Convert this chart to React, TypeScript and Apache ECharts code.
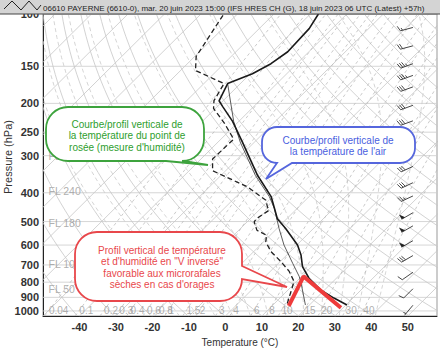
import React, { useEffect, useRef } from "react";
import * as echarts from "echarts";

const FONT = "'Liberation Sans', Arial, sans-serif";

// ---- axes / diagram constants ----
const P_TOP = 100;
const P_BOTTOM = 1040;
const SKEW = 81.9; // °C per decade of pressure (45° isotherms)
const T_MIN = -50;
const T_MAX = 58;

const pressureLabels = [100, 150, 200, 250, 300, 400, 500, 600, 700, 800, 900, 1000];

// ---- temperature profile ----
const tempP = [100, 112, 134, 147, 159, 171.5, 196, 205, 230, 270, 350, 412, 489, 528, 600, 648, 709, 776, 849, 905, 955];
const tempT = [-57.8, -56.3, -55.8, -57.1, -59.4, -63.5, -61.1, -58.5, -51.7, -43.3, -29.9, -20.4, -12.6, -7.6, 0.2, 3.9, 7.5, 12.5, 18.9, 24.8, 30.3];

// ---- dew point profile ----
const dewP = [101, 139, 155, 171.5, 196, 208, 233, 264, 308, 337, 382, 424, 446, 458, 489, 501, 535, 556, 585, 631, 682, 736, 796, 955];
const dewT = [-83.6, -79.6, -75.9, -64.5, -62.5, -60.5, -53.5, -46.5, -46.8, -43.6, -29.6, -20.8, -18.6, -17.2, -18.3, -18.1, -15.0, -11.0, -9.4, -5.3, 0.2, 5.2, 9.3, 13.8];

// ---- wet-bulb profile ----
const wetP = [171.5, 230, 270, 350, 412, 452, 528, 600, 691, 765, 795, 955];
const wetT = [-63.5, -51.4, -43.9, -30.5, -20.9, -16.2, -9.4, -3.5, 3.9, 9.3, 11.1, 18.9];

// ---- red "inverted V" annotation ----
const vP = [962, 765, 976];
const vT = [14.6, 10.5, 29.4];

// ---- winds ----
const windP = [111, 128, 147, 161, 176, 203, 229, 326, 370, 410, 467, 517, 580, 651, 741, 842, 957];
const windKt = [15, 20, 35, 35, 30, 30, 30, 30, 30, 25, 50, 50, 50, 30, 10, 10, 5];
const windDir = [255, 255, 250, 250, 250, 250, 250, 245, 245, 245, 240, 240, 240, 240, 235, 225, 220];
const BARB_X = 51.4;

// ---- reference lines ----
const mixingRatios = ["0.04", "0.1", "0.2", "0.3", "0.4", "0.6", "0.8", "1", "1.5", "2", "3", "4", "6", "8", "10", "15", "20", "30", "40"];
const flightLevels = ["FL 50", "FL 100", "FL 180", "FL 240", "FL 300"];
const flPressure = [843, 697, 506, 393, 301];

const TITLE = "06610 PAYERNE (6610-0), mar. 20 juin 2023 15:00 (IFS HRES CH (G), 18 juin 2023 06 UTC (Latest) +57h)";

const sx = (T: number, p: number) => T + SKEW * Math.log10(P_BOTTOM / p);
const xy = (T: number, p: number) => [sx(T, p), Math.log10(p)];

function logSpace(n: number) {
  const out: number[] = [];
  for (let i = 0; i <= n; i++) out.push(P_BOTTOM * Math.pow(P_TOP / P_BOTTOM, i / n));
  return out;
}

function tdFromW(wStr: string, p: number) {
  const w = parseFloat(wStr);
  const e = (w * p) / (622 + w);
  const l = Math.log(e / 6.112);
  return (243.5 * l) / (17.67 - l);
}

function dTdp(T: number, p: number) {
  const Tc = T - 273.15;
  const es = 6.112 * Math.exp((17.67 * Tc) / (Tc + 243.5));
  const rs = (0.622 * es) / (p - es);
  const num = 287.04 * T + 2.501e6 * rs;
  const den = 1005.7 + (2.501e6 * 2.501e6 * rs * 0.622) / (287.04 * T * T);
  return num / (den * p);
}

function moistLine(thw: number) {
  const pts: number[][] = [];
  let T = thw + 273.15;
  let p = 1000;
  const dp1 = 10;
  let Td = T;
  let pd = p;
  for (let i = 0; i < 4; i++) {
    const k1 = dTdp(Td, pd);
    const k2 = dTdp(Td + k1 * dp1, pd + dp1);
    Td += 0.5 * (k1 + k2) * dp1;
    pd += dp1;
  }
  pts.push(xy(Td - 273.15, pd));
  pts.push(xy(T - 273.15, p));
  const dp = -5;
  let i = 0;
  while (p + dp >= P_TOP - 0.01) {
    const k1 = dTdp(T, p);
    const k2 = dTdp(T + k1 * dp, p + dp);
    T += 0.5 * (k1 + k2) * dp;
    p += dp;
    i++;
    if (i % 4 === 0) pts.push(xy(T - 273.15, p));
  }
  return pts;
}

function gridSeries(data: number[][], color: string, type: any, width = 0.8) {
  return {
    type: "line",
    data,
    symbol: "none",
    silent: true,
    clip: true,
    z: 1,
    lineStyle: { color, width, type },
  };
}

function bubblePath(x0: number, y0: number, x1: number, y1: number, r: number, side: string, a: number, b: number, tx: number, ty: number) {
  let d = `M${x0 + r} ${y0} L${x1 - r} ${y0} A${r} ${r} 0 0 1 ${x1} ${y0 + r} `;
  if (side === "right") d += `L${x1} ${a} L${tx} ${ty} L${x1} ${b} `;
  d += `L${x1} ${y1 - r} A${r} ${r} 0 0 1 ${x1 - r} ${y1} `;
  if (side === "bottom") d += `L${b} ${y1} L${tx} ${ty} L${a} ${y1} `;
  d += `L${x0 + r} ${y1} A${r} ${r} 0 0 1 ${x0} ${y1 - r} L${x0} ${y0 + r} A${r} ${r} 0 0 1 ${x0 + r} ${y0} Z`;
  return d;
}

function registerBubbles() {
  echarts.graphic.registerShape("bubbleGreen", echarts.graphic.extendPath(bubblePath(46, 107, 204, 161, 22, "bottom", 166, 183, 208, 165), {}));
  echarts.graphic.registerShape("bubbleBlue", echarts.graphic.extendPath(bubblePath(262, 127, 415, 163, 15, "bottom", 277, 292, 266, 179), {}));
  echarts.graphic.registerShape("bubbleRed", echarts.graphic.extendPath(bubblePath(75, 232, 242, 301, 22, "right", 266, 279, 287, 287), {}));
}

function buildOption() {
  const series: any[] = [];
  pressureLabels.forEach((p) => {
    series.push(gridSeries([[T_MIN, Math.log10(p)], [T_MAX, Math.log10(p)]], "#cccccc", "solid"));
  });
  for (let T = -140; T <= 50; T += 10) {
    series.push(gridSeries([xy(T, P_BOTTOM), xy(T, P_TOP)], "#c6c6c6", "solid"));
  }
  const ps = logSpace(40);
  for (let th = 220; th <= 480; th += 10) {
    series.push(gridSeries(ps.map((p) => xy(th * Math.pow(p / 1000, 0.2857) - 273.15, p)), "#c6c6c6", "solid"));
  }
  for (let thw = -15; thw <= 40; thw += 5) {
    series.push(gridSeries(moistLine(thw), "#cacaca", [4, 3]));
  }
  const ps2 = logSpace(12);
  mixingRatios.forEach((w) => {
    series.push(gridSeries(ps2.map((p) => xy(tdFromW(w, p), p)), "#bdbdbd", [3, 3]));
  });
  series.push({
    type: "scatter",
    silent: true,
    symbolSize: 1,
    itemStyle: { color: "rgba(0,0,0,0)" },
    z: 4,
    data: mixingRatios.map((w) => [sx(tdFromW(w, 1000), 1000), Math.log10(1000), w]),
    label: {
      show: true,
      position: "right",
      distance: 0,
      formatter: (p: any) => p.value[2],
      color: "#9a9a9a",
      fontSize: 10,
      fontFamily: FONT,
    },
  });
  series.push({
    type: "scatter",
    silent: true,
    symbolSize: 1,
    itemStyle: { color: "rgba(0,0,0,0)" },
    z: 4,
    data: flPressure.map((p, i) => [T_MIN, Math.log10(p), flightLevels[i]]),
    label: {
      show: true,
      position: "right",
      distance: 5,
      formatter: (p: any) => p.value[2],
      color: "#9a9a9a",
      fontSize: 10.5,
      fontFamily: FONT,
    },
  });
  series.push({
    type: "line",
    silent: true,
    symbol: "none",
    z: 5,
    data: wetP.map((p, i) => xy(wetT[i], p)),
    lineStyle: { color: "#333", width: 0.8 },
  });
  series.push({
    type: "line",
    silent: true,
    symbol: "none",
    z: 6,
    data: dewP.map((p, i) => xy(dewT[i], p)),
    lineStyle: { color: "#222", width: 1.3, type: [5, 3] },
  });
  series.push({
    type: "line",
    silent: true,
    symbol: "none",
    z: 7,
    data: tempP.map((p, i) => xy(tempT[i], p)),
    lineStyle: { color: "#1a1a1a", width: 1.6 },
  });
  series.push({
    type: "line",
    silent: true,
    symbol: "none",
    z: 60,
    data: vP.map((p, i) => xy(vT[i], p)),
    lineStyle: { color: "#ee3b3b", width: 4 },
  });
  series.push({
    type: "custom",
    silent: true,
    z: 8,
    data: windP.map((p, i) => [BARB_X, Math.log10(p), windKt[i], windDir[i]]),
    renderItem: (params: any, api: any) => {
      const pt = api.coord([api.value(0), api.value(1)]);
      const spd = api.value(2);
      const dir = (api.value(3) * Math.PI) / 180;
      const ux = Math.sin(dir), uy = -Math.cos(dir);
      const fx = Math.cos(dir), fy = Math.sin(dir);
      const L = 13;
      const ex = pt[0] + ux * L, ey = pt[1] + uy * L;
      const st = { stroke: "#333", lineWidth: 0.9 };
      const children: any[] = [{ type: "line", shape: { x1: pt[0], y1: pt[1], x2: ex, y2: ey }, style: st }];
      let rem = Math.round(spd / 5) * 5;
      let pos = 0;
      const step = 2.3;
      const FLN = 5.5;
      const tx = fx * 0.94 + ux * 0.34, ty = fy * 0.94 + uy * 0.34;
      while (rem >= 50) {
        const bx = ex - ux * pos, by = ey - uy * pos;
        const b2x = ex - ux * (pos + 4), b2y = ey - uy * (pos + 4);
        children.push({ type: "polygon", shape: { points: [[bx, by], [bx + fx * FLN, by + fy * FLN], [b2x, b2y]] }, style: { fill: "#222" } });
        pos += 5;
        rem -= 50;
      }
      while (rem >= 10) {
        const bx = ex - ux * pos, by = ey - uy * pos;
        children.push({ type: "line", shape: { x1: bx, y1: by, x2: bx + tx * FLN, y2: by + ty * FLN }, style: st });
        pos += step;
        rem -= 10;
      }
      if (rem >= 5) {
        if (pos === 0) pos = step;
        const bx = ex - ux * pos, by = ey - uy * pos;
        children.push({ type: "line", shape: { x1: bx, y1: by, x2: bx + (tx * FLN) / 2, y2: by + (ty * FLN) / 2 }, style: st });
      }
      return { type: "group", children };
    },
  });

  const textStyle = (text: string, color: string) => ({
    text,
    fill: color,
    fontSize: 10,
    fontFamily: FONT,
    align: "center",
    verticalAlign: "middle",
    lineHeight: 11.5,
  });

  const graphic: any[] = [
    { type: "rect", z: 100, shape: { x: 0, y: 0, width: 440, height: 14 }, style: { fill: "#d4d4d4" } },
    { type: "line", z: 101, shape: { x1: 0, y1: 14, x2: 440, y2: 14 }, style: { stroke: "#444", lineWidth: 1 } },
    { type: "polyline", z: 101, shape: { points: [[4, 9], [12, 1], [21, 10], [29, 1], [37, 10], [41, 5]] }, style: { stroke: "#222", lineWidth: 1, fill: null } },
    { type: "text", z: 101, x: 43, y: 8, style: { text: TITLE, fill: "#222", fontSize: 8, fontFamily: FONT, verticalAlign: "middle" } },
    { type: "bubbleGreen", z: 50, style: { fill: "#fff", stroke: "#3da33d", lineWidth: 1.8 } },
    { type: "text", z: 51, x: 127, y: 135.5, style: textStyle("Courbe/profil verticale de\nla température du point de\nrosée (mesure d'humidité)", "#2e9e2e") },
    { type: "bubbleBlue", z: 50, style: { fill: "#fff", stroke: "#5566dd", lineWidth: 1.8 } },
    { type: "text", z: 51, x: 338, y: 146, style: textStyle("Courbe/profil verticale de\nla température de l'air", "#4a5ee0") },
    { type: "bubbleRed", z: 50, style: { fill: "#fff", stroke: "#e8474b", lineWidth: 1.8 } },
    { type: "text", z: 51, x: 162, y: 267.5, style: textStyle("Profil vertical de température\net d'humidité en \"V inversé\"\nfavorable aux microrafales\nsèches en cas d'orages", "#e8474b") },
    { type: "text", z: 5, x: 8, y: 157, rotation: Math.PI / 2, style: { text: "Pressure (hPa)", fill: "#333", fontSize: 11, fontFamily: FONT, align: "center", verticalAlign: "middle" } },
  ];

  return {
    animation: false,
    backgroundColor: "#fff",
    grid: { left: 43, right: 3, top: 14, bottom: 34, show: true, borderColor: "#999", borderWidth: 1 },
    xAxis: {
      type: "value",
      min: T_MIN,
      max: T_MAX,
      interval: 10,
      axisLine: { show: true, onZero: false, lineStyle: { color: "#222", width: 1 } },
      axisTick: { show: false },
      splitLine: { show: false },
      axisLabel: { showMinLabel: false, showMaxLabel: false, color: "#333", fontWeight: "bold", fontSize: 11, fontFamily: FONT, margin: 5 },
      name: "Temperature (°C)",
      nameLocation: "middle",
      nameGap: 21,
      nameTextStyle: { color: "#333", fontSize: 10, fontFamily: FONT },
    },
    yAxis: {
      type: "value",
      inverse: true,
      min: Math.log10(P_TOP),
      max: Math.log10(P_BOTTOM),
      axisLine: { show: true, onZero: false, lineStyle: { color: "#222", width: 1 } },
      axisTick: { show: false },
      splitLine: { show: false },
      axisLabel: {
        customValues: pressureLabels.map((p) => Math.log10(p)),
        formatter: (v: number) => String(Math.round(Math.pow(10, v))),
        color: "#333",
        fontWeight: "bold",
        fontSize: 11,
        fontFamily: FONT,
        margin: 4,
      },
    },
    series,
    graphic,
  };
}

export default function App() {
  const ref = useRef<HTMLDivElement>(null);
  useEffect(() => {
    const el = ref.current!;
    registerBubbles();
    const chart = echarts.init(el, null, { renderer: "svg" });
    chart.setOption(buildOption() as any);
    return () => chart.dispose();
  }, []);
  return <div ref={ref} style={{ position: "fixed", left: 0, top: 0, width: 440, height: 352, background: "#fff" }} />;
}
